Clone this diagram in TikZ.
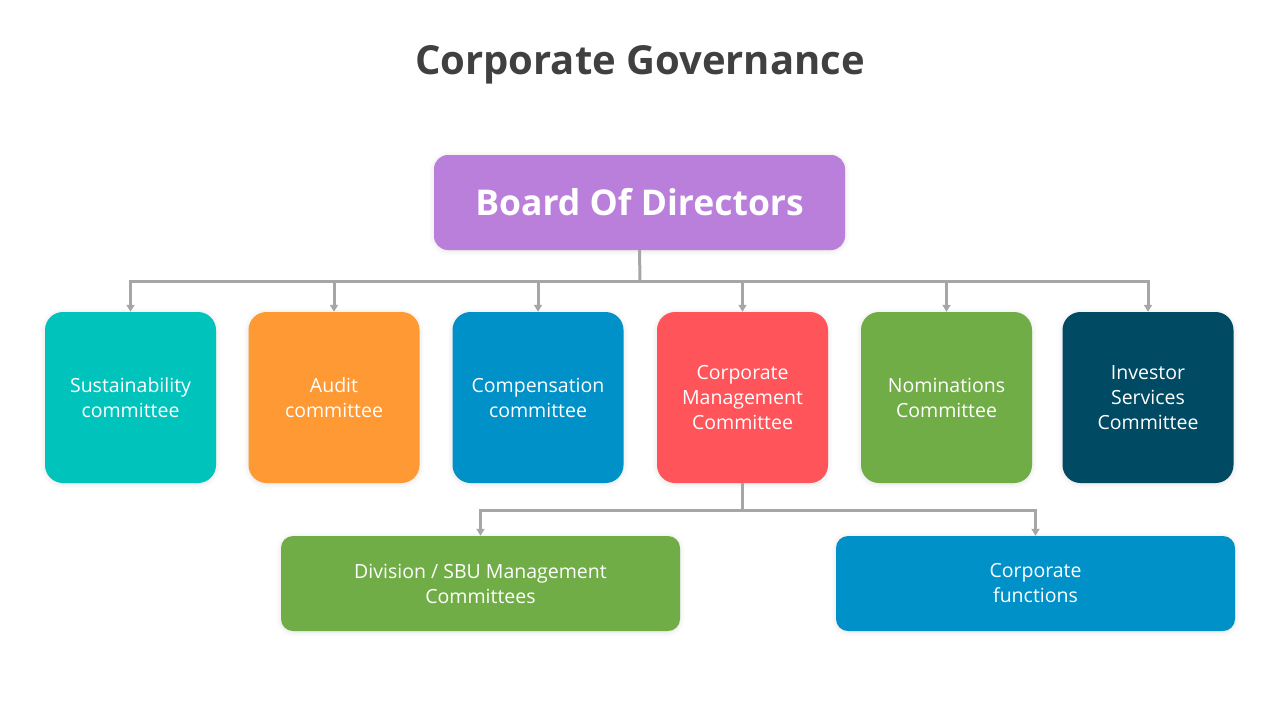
\documentclass[tikz,border=0pt]{standalone}
\usepackage{fontspec}
\setmainfont{Open Sans}
\usetikzlibrary{arrows.meta,shadows.blur}
\definecolor{titlegray}{HTML}{404040}
\definecolor{linegray}{HTML}{A6A6A6}
\definecolor{cpurple}{HTML}{B97FDB}
\definecolor{cteal}{HTML}{00C4BC}
\definecolor{corange}{HTML}{FF9933}
\definecolor{cblue}{HTML}{0091C8}
\definecolor{cred}{HTML}{FF5459}
\definecolor{cgreen}{HTML}{70AD47}
\definecolor{cdark}{HTML}{004A63}
\tikzset{
  box/.style={rounded corners=18pt, text=white, align=center, inner sep=0pt,
    font=\fontsize{19.5}{25}\selectfont,
    blur shadow={shadow xshift=0pt, shadow yshift=-1pt, shadow blur steps=6, shadow opacity=12, shadow blur radius=5pt}},
  comm/.style={box, minimum width=171pt, minimum height=171pt},
  wide/.style={box, rounded corners=12pt, minimum width=399pt, minimum height=95pt},
  conn/.style={draw=linegray, line width=3pt, -{Triangle[width=8pt,length=7pt]}},
  plain/.style={draw=linegray, line width=3pt}
}
\begin{document}
\begin{tikzpicture}[x=1pt,y=-1pt]
\useasboundingbox (0,0) rectangle (1280,720);
\node[font=\fontsize{40}{46}\selectfont\bfseries, text=titlegray] (title) at (640,65) {Corporate Governance};
\node[box, rounded corners=14pt, fill=cpurple, minimum width=411pt, minimum height=95pt, font=\fontsize{35.5}{42}\selectfont\bfseries] (board) at (639.5,202.5) {\raisebox{-2pt}{Board Of Directors}};
\node[comm, fill=cteal] (s1) at (130.5,397.5) {Sustainability\\committee};
\node[comm, fill=corange] (s2) at (334,397.5) {Audit\\committee};
\node[comm, fill=cblue] (s3) at (538,397.5) {Compensation\\committee};
\node[comm, fill=cred] (s4) at (742.5,397.5) {Corporate\\Management\\Committee};
\node[comm, fill=cgreen] (s5) at (946.5,397.5) {Nominations\\Committee};
\node[comm, fill=cdark] (s6) at (1148,397.5) {Investor\\Services\\Committee};
\node[wide, fill=cgreen] (d1) at (480.5,583.5) {Division / SBU Management\\Committees};
\node[wide, fill=cblue] (d2) at (1035.5,583.5) {Corporate\\functions};
\coordinate (bus) at (640,281);
\coordinate (bus2) at (742.5,510);
\draw[plain] (board.south) -- (bus);
\foreach \s in {s1,s2,s3,s4,s5,s6}{
  \draw[conn] (bus) -| (\s.north);
}
\draw[plain] (s4.south) -- (bus2);
\draw[conn] (bus2) -| (d1.north);
\draw[conn] (bus2) -| (d2.north);
\end{tikzpicture}
\end{document}
